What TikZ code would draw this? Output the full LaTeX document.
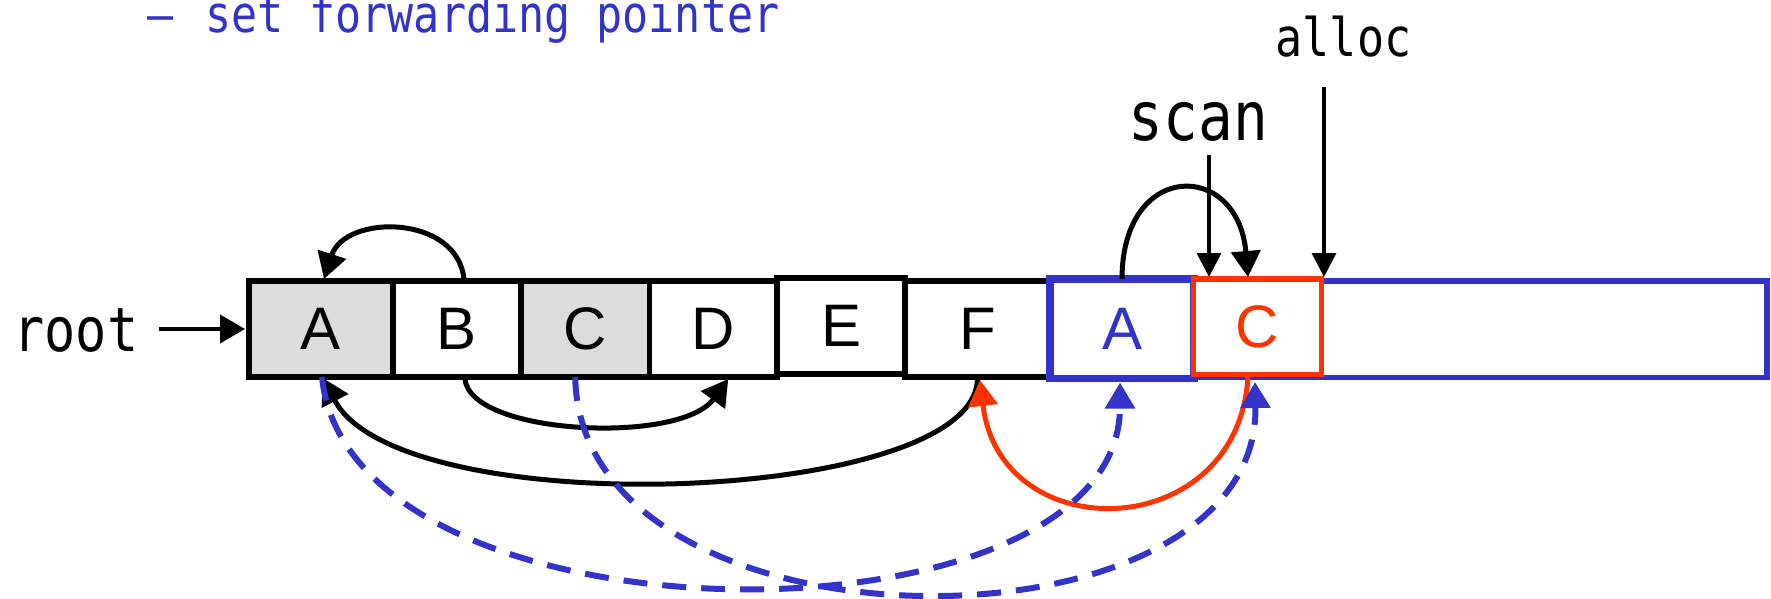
\documentclass[tikz,border=0pt]{standalone}
\usepackage{fontspec}
\newfontfamily\gf{DejaVu Sans Mono}[FakeStretch=0.85]
\newfontfamily\cf{Liberation Sans}
\usetikzlibrary{arrows.meta,calc}
\definecolor{fwdblue}{HTML}{3333CC}
\definecolor{fwdred}{HTML}{FF3300}
\definecolor{cellgray}{HTML}{DCDCDC}
\tikzset{
  cell/.style={draw, line width=5.5pt, inner sep=0pt, outer sep=0pt, minimum height=96pt,
    font=\cf\fontsize{60}{60}\selectfont},
  lbl/.style={inner sep=0pt, anchor=base},
  ptr/.style={line width=5pt, -{Triangle[length=26pt,width=29pt]}},
  fwd/.style={ptr, line width=6pt, fwdblue, dash pattern=on 24pt off 15pt},
  tick/.style={line width=3.5pt, -{Triangle[length=24pt,width=24pt]}},
}
\begin{document}
\begin{tikzpicture}[x=1pt,y=-1pt]
\useasboundingbox (0,0) rectangle (1771,599);

% title
\node[lbl, text=fwdblue, font=\gf\fontsize{51}{51}\selectfont] (dash) at (161,33) {–};
\node[lbl, anchor=base west, text=fwdblue, font=\gf\fontsize{51}{51}\selectfont] (title) at (205,33) {set forwarding pointer};

% labels
\node[lbl, font=\gf\fontsize{61}{61}\selectfont] (root) at (76,351) {root};
\node[lbl, font=\gf\fontsize{68}{68}\selectfont] (scan) at (1198.5,140) {scan};
\node[lbl, font=\gf\fontsize{53}{53}\selectfont] (alloc) at (1343.5,57) {alloc};

% from-space cells
\node[cell, fill=cellgray, minimum width=144pt] (a1) at (321,329) {A};
\node[cell, fill=white, minimum width=128pt] (b1) at (457,329) {B};
\node[cell, fill=cellgray, minimum width=128.5pt] (c1) at (585.25,329) {C};
\node[cell, fill=white, minimum width=127.5pt] (d1) at (713.25,329) {D};
\node[cell, fill=white, minimum width=128pt] (e1) at (841,326) {E};
\node[cell, fill=white, minimum width=145pt] (f1) at (977.5,329) {F};

% to-space
\node[cell, draw=fwdblue, fill=white, minimum width=573pt, minimum height=96.5pt] (free) at (1480.5,329.25) {};
\node[cell, draw=fwdblue, text=fwdblue, line width=7.5pt, fill=white, minimum width=144pt, minimum height=99.5pt] (a2) at (1122,328.75) {A};
\node[cell, draw=fwdred, text=fwdred, fill=white, minimum width=128pt, minimum height=95.5pt] (c2) at (1257.5,326.75) {C};

% root pointer
\coordinate (rootout) at ($(a1.west)+(-90,0)$);
\draw[line width=4pt, -{Triangle[length=25pt,width=28pt]}] (rootout) -- ($(a1.west)+(-4,0)$);

% scan / alloc pointers
\draw[tick] ($(scan.base)+(10.5,15)$) -- ($(c2.north west)+(15.5,-2)$);
\draw[tick] ($(alloc.base)+(-19.5,30)$) -- ($(c2.north east)+(2.5,-2)$);

% black pointers
\draw[ptr] ($(b1.north)+(7,-2)$) .. controls (457,214) and (345,214) .. ($(a1.north)+(3,-2)$);
\draw[ptr] (a2.north) .. controls (1122,160) and (1238,160) .. ($(c2.north)+(-9.5,-2)$);
\draw[ptr] ($(b1.south)+(8,2)$) .. controls (470,435) and (680,445) .. ($(d1.south)+(15,2)$);
\draw[ptr] ($(f1.south)+(0,2)$) .. controls (975,505) and (400,525) .. ($(a1.south)+(2,1)$);

% red pointer
\draw[ptr, fwdred] ($(c2.south)+(-9.5,2)$) .. controls (1238,545) and (1000,550) .. ($(f1.south)+(2.5,3)$);

% forwarding pointers
\draw[fwd] ($(a1.south)+(1,0)$) .. controls (350,655) and (1120,655) .. ($(a2.south)+(-2,4)$);
\draw[fwd] ($(c1.south)+(-10,0)$) .. controls (580,664) and (1260,664) .. ($(c2.south)+(-2.5,7.5)$);
\end{tikzpicture}
\end{document}
